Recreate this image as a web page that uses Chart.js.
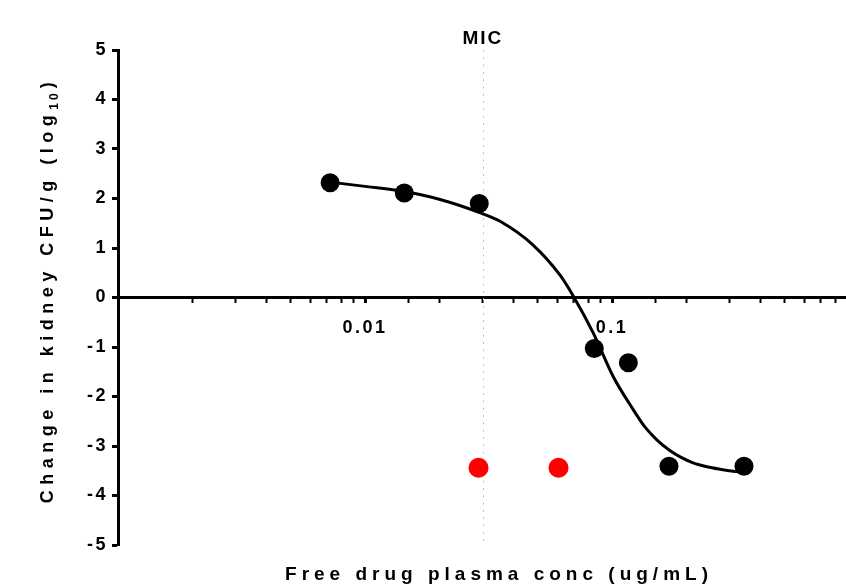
<!DOCTYPE html>
<html>
<head>
<meta charset="utf-8">
<script src="https://cdn.jsdelivr.net/npm/chart.js@4.4.1/dist/chart.umd.min.js"></script>
<style>
html, body { margin: 0; padding: 0; background: #fff; overflow: hidden; }
#wrap { position: relative; width: 846px; height: 587px; }
#chart { display: block; }
</style>
</head>
<body>
<div id="wrap"><canvas id="chart"></canvas></div>
<script>
// measured points (free drug conc, change in kidney CFU)
var concBlack = [0.00722, 0.01442, 0.0290, 0.0847, 0.1164, 0.170, 0.342];
var kidneyBlack = [2.32, 2.11, 1.90, -1.03, -1.32, -3.41, -3.41];
var concRed = [0.0288, 0.0607];
var kidneyRed = [-3.44, -3.44];

// fitted curve
var fitConc = [0.00722, 0.01019, 0.01438, 0.02012, 0.02893, 0.03521, 0.04789, 0.0616, 0.07019,
	0.08377, 0.1009, 0.1216, 0.1360, 0.1521, 0.1702, 0.1903, 0.2128, 0.2424, 0.2736, 0.309, 0.3423];
var fitKidney = [2.33, 2.24, 2.14, 1.98, 1.72, 1.54, 1.06, 0.45, 0.0,
	-0.71, -1.59, -2.26, -2.62, -2.88, -3.08, -3.23, -3.34, -3.42, -3.47, -3.51, -3.53];

var xTickLabels = [0.01, 0.1];
var xMin = 0.001, xMax = 0.885;
var yMin = -5, yMax = 5;
var micValue = 0.03;
var micLabel = 'MIC';
var xTitle = 'Free drug plasma conc (ug/mL)';
var yTitleMain = 'Change in kidney CFU/g (log';
var yTitleSub = '10';
var yTitleEnd = ')';

var fontFamily = "'Liberation Sans', Arial, Helvetica, sans-serif";

function toPoints(xs, ys){
	var pts = [];
	for(var i=0;i<xs.length;i++){
		pts.push({x: xs[i], y: ys[i]});
	}
	return pts;
}

function isLabelTick(v){
	for(var i=0;i<xTickLabels.length;i++){
		if(Math.abs(v - xTickLabels[i]) < xTickLabels[i] * 1e-6) return i;
	}
	return -1;
}

function isEdgeTick(v){
	return Math.abs(v - xMin) < 1e-9 || Math.abs(v - xMax) < 1e-9;
}

var annotate = {
	id: 'annotate',
	beforeDraw: function(chart){
		chart.ctx.letterSpacing = '2.5px';
	},
	beforeDatasetsDraw: function(chart){
		var ctx = chart.ctx;
		var xs = chart.scales.x, ys = chart.scales.y;
		var px = Math.round(xs.getPixelForValue(micValue)) + 0.5;
		ctx.save();
		ctx.strokeStyle = '#c0c0c0';
		ctx.lineWidth = 1;
		ctx.setLineDash([2, 5.3]);
		ctx.beginPath();
		ctx.moveTo(px, ys.getPixelForValue(yMax));
		ctx.lineTo(px, ys.getPixelForValue(yMin));
		ctx.stroke();
		ctx.restore();
	},
	afterDraw: function(chart){
		var ctx = chart.ctx;
		var area = chart.chartArea;
		var xs = chart.scales.x;
		ctx.save();
		ctx.fillStyle = '#000';
		ctx.textBaseline = 'alphabetic';
		ctx.textAlign = 'left';

		// MIC label
		ctx.font = 'bold 19px ' + fontFamily;
		ctx.letterSpacing = '2px';
		var w = ctx.measureText(micLabel).width;
		ctx.fillText(micLabel, xs.getPixelForValue(micValue) - w / 2, 44);

		// x title
		ctx.font = 'bold 19px ' + fontFamily;
		ctx.letterSpacing = '5px';
		w = ctx.measureText(xTitle).width;
		ctx.fillText(xTitle, (area.left + area.right) / 2 + 17 - w / 2, 580);

		// y title, rotated with subscript
		ctx.translate(53, 291);
		ctx.rotate(-Math.PI / 2);
		ctx.font = 'bold 18px ' + fontFamily;
		ctx.letterSpacing = '5.5px';
		var w1 = ctx.measureText(yTitleMain).width;
		var w3 = ctx.measureText(yTitleEnd).width;
		ctx.font = 'bold 12px ' + fontFamily;
		ctx.letterSpacing = '3px';
		var w2 = ctx.measureText(yTitleSub).width;
		var x0 = -(w1 + w2 + w3) / 2;
		ctx.font = 'bold 18px ' + fontFamily;
		ctx.letterSpacing = '5.5px';
		ctx.fillText(yTitleMain, x0, 0);
		ctx.font = 'bold 12px ' + fontFamily;
		ctx.letterSpacing = '3px';
		ctx.fillText(yTitleSub, x0 + w1, 5);
		ctx.font = 'bold 18px ' + fontFamily;
		ctx.letterSpacing = '5.5px';
		ctx.fillText(yTitleEnd, x0 + w1 + w2 + 2, 0);
		ctx.restore();
	}
};

var ctx = document.getElementById('chart');
new Chart(ctx, {
	type: 'scatter',
	data: {
		datasets: [{
			label: 'treated',
			data: toPoints(concBlack, kidneyBlack),
			backgroundColor: '#000',
			borderWidth: 0,
			pointRadius: 9.5,
			order: 1
		}, {
			label: 'control',
			data: toPoints(concRed, kidneyRed),
			backgroundColor: '#ff0000',
			borderWidth: 0,
			pointRadius: 10,
			order: 1
		}, {
			label: 'fit',
			type: 'line',
			data: toPoints(fitConc, fitKidney),
			borderColor: '#000',
			borderWidth: 3,
			pointRadius: 0,
			fill: false,
			cubicInterpolationMode: 'monotone',
			order: 2
		}]
	},
	options: {
		responsive: true,
		maintainAspectRatio: false,
		animation: false,
		layout: { autoPadding: false, padding: { left: 68, top: 50, bottom: 42, right: 0 } },
		plugins: {
			legend: { display: false },
			tooltip: { enabled: false }
		},
		scales: {
			x: {
				type: 'logarithmic',
				min: xMin,
				max: xMax,
				position: { y: 0 },
				border: { color: '#000', width: 3 },
				grid: {
					drawOnChartArea: false,
					drawTicks: true,
					tickLength: 4,
					tickWidth: function(c){ return isLabelTick(c.tick.value) >= 0 ? 3 : 2; },
					tickColor: function(c){ return isEdgeTick(c.tick.value) ? 'rgba(0,0,0,0)' : '#000'; }
				},
				ticks: {
					autoSkip: false,
					maxRotation: 0,
					padding: 16,
					color: '#000',
					font: { family: fontFamily, size: 18, weight: 'bold' },
					callback: function(value){
						var i = isLabelTick(value);
						return i >= 0 ? String(xTickLabels[i]) : '';
					}
				},
				// tick padding otherwise eats into the right edge
				afterFit: function(scale){ scale.paddingLeft = 0; scale.paddingRight = 0; }
			},
			y: {
				min: yMin,
				max: yMax,
				border: { color: '#000', width: 3 },
				grid: { drawOnChartArea: false, drawTicks: true, tickLength: 6, tickWidth: 3, tickColor: '#000' },
				ticks: {
					stepSize: 1,
					padding: 4,
					color: '#000',
					font: { family: fontFamily, size: 18, weight: 'bold' }
				},
				afterFit: function(scale){ scale.width = 50; }
			}
		}
	},
	plugins: [annotate]
});
</script>
</body>
</html>
